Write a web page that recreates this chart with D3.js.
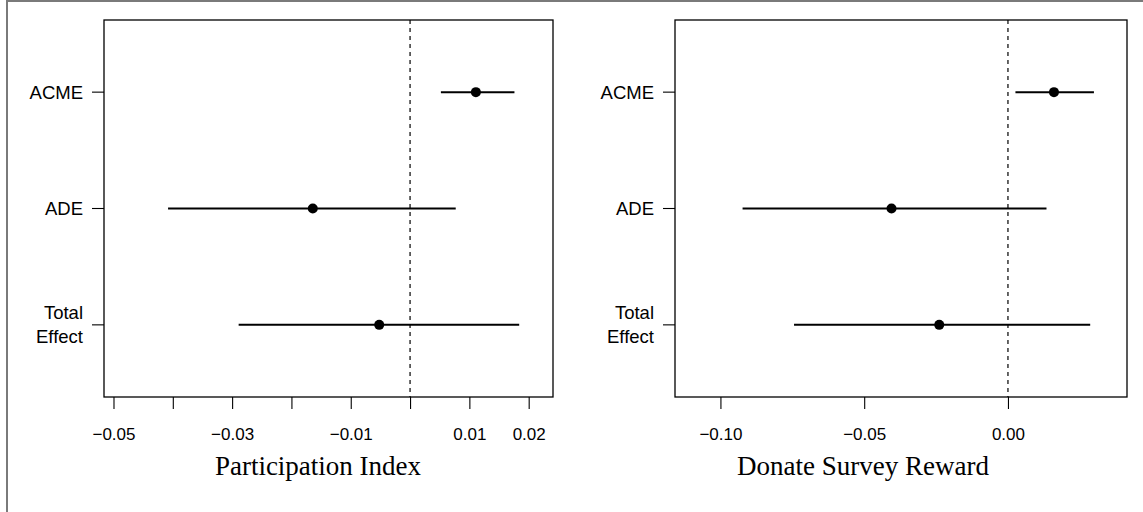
<!DOCTYPE html>
<html>
<head>
<meta charset="utf-8">
<script src="https://cdn.jsdelivr.net/npm/d3@7"></script>
<style>
  body { margin: 0; background: #fff; }
  svg { display: block; }
</style>
</head>
<body>
<div id="chart"></div>
<script>
// effect labels, top to bottom
var categories = ["ACME", "ADE", "Total Effect"];

// Participation Index: point estimate and 95% CI
var partEst = [0.0111, -0.0164, -0.0052];
var partLo  = [0.0052, -0.0408, -0.0289];
var partHi  = [0.0176, 0.0077, 0.0184];
var partTicks = [-0.05, -0.04, -0.03, -0.02, -0.01, 0, 0.01, 0.02];
var partLabels = ["\u22120.05", "", "\u22120.03", "", "\u22120.01", "", "0.01", "0.02"];

// Donate Survey Reward
var donEst = [0.0160, -0.0405, -0.0239];
var donLo  = [0.0026, -0.0923, -0.0744];
var donHi  = [0.0299, 0.0134, 0.0286];
var donTicks = [-0.10, -0.05, 0.00];
var donLabels = ["\u22120.10", "\u22120.05", "0.00"];

var w = 1143, h = 512;

var svg = d3.select("#chart").append("svg")
  .attr("width", w)
  .attr("height", h);

// frame round the picture (top and left only)
svg.append("line").attr("x1", 7).attr("x2", w).attr("y1", 1).attr("y2", 1)
  .attr("stroke", "#7a7a7a").attr("stroke-width", 2);
svg.append("line").attr("x1", 7).attr("x2", 7).attr("y1", 0).attr("y2", h)
  .attr("stroke", "#7a7a7a").attr("stroke-width", 2);

var sans = "'Liberation Sans', Arial, Helvetica, sans-serif";
var serif = "'Liberation Serif', 'Times New Roman', serif";

function panel(opts) {
  var top = 20, bottom = 397;

  var x = d3.scaleLinear().domain(opts.domain).range([opts.left, opts.right]);
  // categories sit at 1..3 with R style ylim 0.5..3.5 plus 4%
  var y = d3.scaleLinear().domain([3.62, 0.38]).range([bottom, top]);

  var g = svg.append("g");

  // dashed zero line
  g.append("line")
    .attr("x1", x(0)).attr("x2", x(0))
    .attr("y1", top).attr("y2", bottom)
    .attr("stroke", "#000")
    .attr("stroke-width", 1.2)
    .attr("stroke-dasharray", "4,4");

  // intervals
  g.selectAll(".ci")
    .data(categories)
    .enter()
    .append("line")
    .attr("class", "ci")
    .attr("x1", function(d, i) { return x(opts.lo[i]); })
    .attr("x2", function(d, i) { return x(opts.hi[i]); })
    .attr("y1", function(d, i) { return y(i + 1); })
    .attr("y2", function(d, i) { return y(i + 1); })
    .attr("stroke", "#000")
    .attr("stroke-width", 2);

  // point estimates
  g.selectAll(".dot")
    .data(categories)
    .enter()
    .append("circle")
    .attr("class", "dot")
    .attr("cx", function(d, i) { return x(opts.est[i]); })
    .attr("cy", function(d, i) { return y(i + 1); })
    .attr("r", 5)
    .attr("fill", "#000");

  // box
  g.append("rect")
    .attr("x", opts.left).attr("y", top)
    .attr("width", opts.right - opts.left)
    .attr("height", bottom - top)
    .attr("fill", "none")
    .attr("stroke", "#000")
    .attr("stroke-width", 1.3);

  // x axis
  var xAxis = d3.axisBottom(x)
    .tickValues(opts.ticks)
    .tickSize(12)
    .tickPadding(19)
    .tickFormat(function(d, i) { return opts.labels[i]; });

  var gx = g.append("g")
    .attr("transform", "translate(0," + bottom + ")")
    .call(xAxis);
  gx.select(".domain").remove();
  gx.selectAll("line").attr("stroke", "#000").attr("stroke-width", 1.1);
  gx.selectAll("text")
    .attr("fill", "#000")
    .style("font-family", sans)
    .style("font-size", "17px");

  // y axis ticks
  g.selectAll(".ytick")
    .data(categories)
    .enter()
    .append("line")
    .attr("class", "ytick")
    .attr("x1", opts.left - 12).attr("x2", opts.left)
    .attr("y1", function(d, i) { return y(i + 1); })
    .attr("y2", function(d, i) { return y(i + 1); })
    .attr("stroke", "#000")
    .attr("stroke-width", 1.1);

  // y labels, split into lines
  var yl = g.selectAll(".ylab")
    .data(categories)
    .enter()
    .append("text")
    .attr("class", "ylab")
    .attr("text-anchor", "end")
    .attr("fill", "#000")
    .style("font-family", sans)
    .style("font-size", "18.5px");

  yl.each(function(d, i) {
    var parts = d.split(" ");
    var cy = y(i + 1);
    var lh = 24;
    var start = cy - (parts.length - 1) * lh / 2;
    var t = d3.select(this);
    parts.forEach(function(p, k) {
      t.append("tspan")
        .attr("x", opts.left - 21)
        .attr("y", start + k * lh)
        .attr("dy", "0.35em")
        .text(p);
    });
  });

  // axis title
  g.append("text")
    .attr("x", opts.titleX)
    .attr("y", 475)
    .attr("text-anchor", "middle")
    .attr("fill", "#000")
    .style("font-family", serif)
    .style("font-size", "27px")
    .text(opts.title);
}

panel({
  left: 104, right: 553,
  domain: [-0.0516, 0.0241],
  est: partEst, lo: partLo, hi: partHi,
  ticks: partTicks, labels: partLabels,
  title: "Participation Index", titleX: 318
});

panel({
  left: 675, right: 1127,
  domain: [-0.1158, 0.0414],
  est: donEst, lo: donLo, hi: donHi,
  ticks: donTicks, labels: donLabels,
  title: "Donate Survey Reward", titleX: 863
});
</script>
</body>
</html>
